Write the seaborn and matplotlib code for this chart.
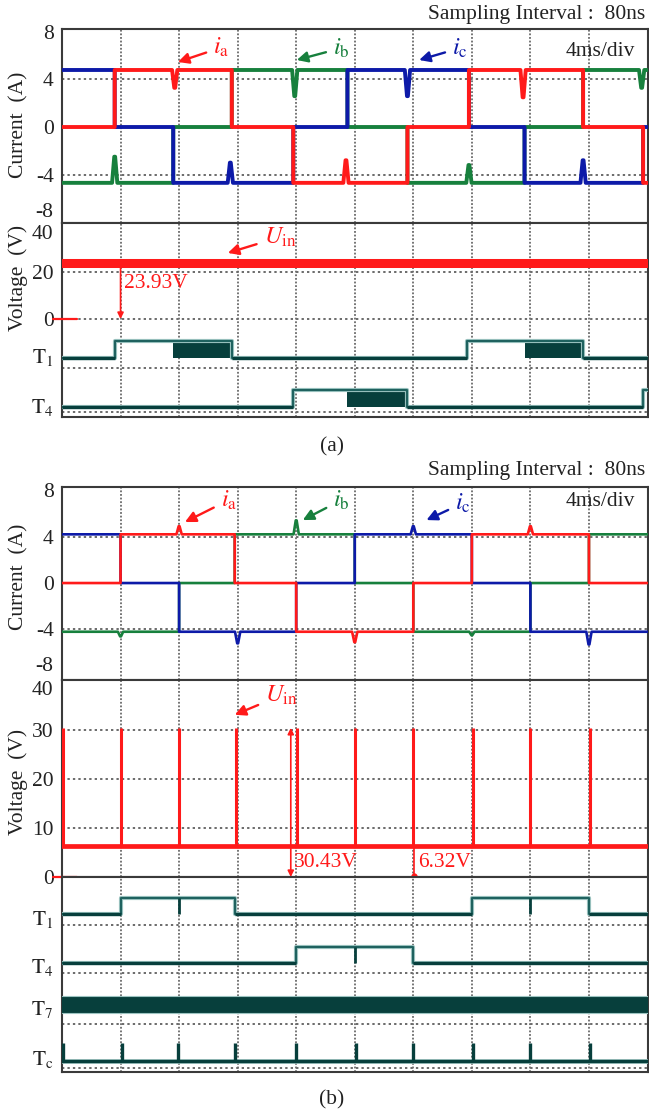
import matplotlib
matplotlib.use("Agg")
import matplotlib.pyplot as plt
import matplotlib.patheffects as pe
import seaborn as sns

sns.set_theme(style="white")
plt.rcParams["font.family"] = ["Liberation Serif", "DejaVu Serif"]
plt.rcParams["mathtext.fontset"] = "stix"

W, H, DPI = 649, 1114, 100

RED = "#ff1a1a"
GREEN = "#17803d"
BLUE = "#0d1aa8"
DARK = "#073f3c"
TEAL = "#1f625f"
HALO = "#9cc4c1"
GRID = "#6a6a6a"
INK = "#222222"
FS = 15.5

# ---------------- data ----------------
grid_ms = [4, 8, 12, 16, 20, 24, 28, 32, 36]

# (a) phase currents: switching instants (ms) and level (A) held in each interval
a_ia_t = [0, 3.6, 11.6, 15.8, 23.6, 27.8, 35.6, 39.7, 40]
a_ia_lv = [0, 4.8, 0, -4.7, 0, 4.8, 0, -4.7]
a_ib_t = [0, 7.6, 11.6, 19.5, 23.6, 31.6, 35.6, 40]
a_ib_lv = [-4.7, 0, 4.8, 0, -4.7, 0, 4.8]
a_ic_t = [0, 3.6, 7.6, 15.8, 19.5, 27.8, 31.6, 39.7, 40]
a_ic_lv = [4.8, 0, -4.7, 0, 4.8, 0, -4.7, 0]
# commutation notches: (time ms, excursion A)
a_ia_notch = [(7.7, -1.5), (19.4, 1.9), (31.5, -2.3)]
a_ib_notch = [(3.6, 2.2), (15.9, -2.2), (27.8, 1.5), (39.6, -1.5)]
a_ic_notch = [(11.5, 1.7), (23.6, -2.2), (35.6, 1.9)]

a_uin = 23.93          # V
a_cursor_t = 4.0       # ms

# (a) gate signals: 0 = off, 1 = on, 2 = PWM chopping
a_t1_t = [0, 3.6, 7.6, 11.6, 27.7, 31.6, 35.6, 40]
a_t1_s = [0, 1, 2, 0, 1, 2, 0]
a_t4_t = [0, 15.8, 19.5, 23.6, 39.7, 40]
a_t4_s = [0, 1, 2, 0, 1]

# (b) phase currents
b_ia_t = [0, 4, 11.8, 16, 24, 28, 36, 40]
b_ia_lv = [0, 4.2, 0, -4.2, 0, 4.2, 0]
b_ib_t = [0, 8, 11.8, 20, 24, 32, 36, 40]
b_ib_lv = [-4.2, 0, 4.2, 0, -4.2, 0, 4.2]
b_ic_t = [0, 4, 8, 16, 20, 28, 32, 40]
b_ic_lv = [4.2, 0, -4.2, 0, 4.2, 0, -4.2]
b_ia_notch = [(8.0, 0.7), (20.0, -0.9), (32.0, 0.7)]
b_ib_notch = [(4.0, -0.4), (16.0, 1.2), (28.0, -0.3)]
b_ic_notch = [(12.0, -1.0), (24.0, 0.7), (36.0, -1.1)]

# (b) input voltage: base level and spike instants
b_uin_base = 6.32      # V
b_uin_peak = 30.43     # V
b_spike_t = [0.08, 4.0, 8.0, 11.9, 16.05, 20.05, 24.0, 28.05, 31.95, 36.05]
b_peak_cursor_t = 15.63
b_base_cursor_t = 24.03

# (b) gate signals
b_t1_t = [0, 4, 11.8, 28, 36, 40]
b_t1_s = [0, 1, 0, 1, 0]
b_t1_glitch = [8.0, 32.0]
b_t4_t = [0, 16, 24, 40]
b_t4_s = [0, 1, 0]
b_t4_glitch = [20.0]
b_tc_t = [0.05, 4.07, 7.9, 11.8, 16.0, 20.07, 24.0, 28.05, 32.0, 36.05]


# ---------------- helpers ----------------
def px_axes(fig, left, top, right, bottom):
    return fig.add_axes([left / W, 1 - bottom / H, (right - left) / W, (bottom - top) / H])


def step_trace(times, levels, notches=(), w=0.18):
    xs, ys = [], []
    for i, lv in enumerate(levels):
        t0, t1 = times[i], times[i + 1]
        xs.append(t0); ys.append(lv)
        for tn, dv in sorted(notches):
            if t0 < tn < t1:
                xs += [tn - w, tn - 0.03, tn + 0.03, tn + w]
                ys += [lv, lv + dv, lv + dv, lv]
        xs.append(t1); ys.append(lv)
    return xs, ys


def style_axis(ax):
    ax.set_xlim(0, 40)
    ax.set_xticks([])
    ax.tick_params(axis="y", length=0, pad=6, labelsize=FS, labelcolor=INK)
    for sp in ax.spines.values():
        sp.set_color("#3a3a3a")
        sp.set_linewidth(1.5)
        sp.set_visible(True)
    ax.set_facecolor("white")
    for t in grid_ms:
        ax.axvline(t, color=GRID, lw=1.3, ls=(0, (1, 1)), zorder=1)


def hgrid(ax, levels):
    for y in levels:
        ax.axhline(y, color=GRID, lw=1.4, ls=(0, (1.2, 1.6)), zorder=1)


def draw_currents(ax, series, lw):
    for (t, lv, notch), col in series:
        xs, ys = step_trace(t, lv, notch)
        sns.lineplot(x=xs, y=ys, ax=ax, color=col, lw=lw, sort=False,
                     estimator=None, zorder=3, legend=False)


def logic_trace(ax, times, states, low, high, glitches=()):
    xs, ys = [], []
    for i, s in enumerate(states):
        t0, t1 = times[i], times[i + 1]
        y = low if s == 0 else high
        if s == 2:
            ax.fill_between([t0, t1], low, high, color=DARK, lw=0, zorder=3)
        xs += [t0, t1]
        ys += [y, y]
    sns.lineplot(x=xs, y=ys, ax=ax, color=TEAL, lw=1.5, sort=False, estimator=None,
                 zorder=4, legend=False,
                 path_effects=[pe.Stroke(linewidth=3.0, foreground=HALO), pe.Normal()])
    for i, s in enumerate(states):
        if s == 0:
            ax.plot([times[i], times[i + 1]], [low, low], color=DARK, lw=2.4,
                    solid_capstyle="butt", zorder=5)
    for g in glitches:
        ax.vlines(g, low, high, color=DARK, lw=2.0, zorder=5)


def set_ticks(ax, ticks, labels, top_label=None, bottom_label=None):
    ax.set_yticks(ticks)
    texts = ax.set_yticklabels(labels)
    for tx in texts:
        if tx.get_text() == top_label:
            tx.set_va("top")
        if tx.get_text() == bottom_label:
            tx.set_va("bottom")


def arrow_label(ax, text, tip, at, color, size=17.5):
    ax.annotate(text, xy=tip, xytext=at, color=color, fontsize=size,
                ha="center", va="center", zorder=6,
                arrowprops=dict(arrowstyle="-|>", color=color, lw=1.7,
                                mutation_scale=16, shrinkA=3, shrinkB=0))


def zero_marker(ax):
    ax.plot([-0.61, 1.02], [0, 0], color=RED, lw=1.6, clip_on=False, zorder=6)


fig = plt.figure(figsize=(W / DPI, H / DPI), dpi=DPI)
fig.patch.set_facecolor("white")
R = 647.5

# ================= (a) =================
ax = px_axes(fig, 62, 29, R, 223)
style_axis(ax)
ax.set_ylim(-8.08, 8.25)
hgrid(ax, [4, 0, -4])
draw_currents(ax, [((a_ib_t, a_ib_lv, a_ib_notch), GREEN),
                   ((a_ic_t, a_ic_lv, a_ic_notch), BLUE),
                   ((a_ia_t, a_ia_lv, a_ia_notch), RED)], lw=2.8)
set_ticks(ax, [8, 4, 0, -4, -8], ["8", "4", "0", "-4", "-8"], bottom_label="-8")
ax.set_ylabel("Current  (A)", fontsize=FS, color=INK)
ax.yaxis.set_label_coords(-0.058, 0.505)
arrow_label(ax, r"$i_{\rm a}$", (7.92, 5.47), (10.9, 6.7), RED)
arrow_label(ax, r"$i_{\rm b}$", (16.04, 5.64), (19.1, 6.65), GREEN)
arrow_label(ax, r"$i_{\rm c}$", (24.4, 5.64), (27.2, 6.65), BLUE)

ax = px_axes(fig, 62, 223, R, 417)
style_axis(ax)
ax.set_ylim(-41.7, 40.85)
hgrid(ax, [20, 0, -20.85, -39.6])
sns.lineplot(x=[0, 40], y=[a_uin, a_uin], ax=ax, color=RED, lw=6.5, zorder=3, legend=False)
logic_trace(ax, a_t1_t, a_t1_s, -16.6, -9.4)
logic_trace(ax, a_t4_t, a_t4_s, -37.4, -30.2)
set_ticks(ax, [40, 20, 0, -15.3, -36.6],
          ["40", "20", "0", r"$\mathrm{T}_1$", r"$\mathrm{T}_4$"], top_label="40")
ax.set_ylabel("Voltage  (V)", fontsize=FS, color=INK)
ax.yaxis.set_label_coords(-0.058, 0.716)
zero_marker(ax)
arrow_label(ax, r"$U_{\rm in}$", (11.33, 28.1), (14.9, 34.9), RED)
ax.annotate("", xy=(a_cursor_t, 0), xytext=(a_cursor_t, a_uin), zorder=6,
            arrowprops=dict(arrowstyle="-|>", color=RED, lw=1.2, mutation_scale=9,
                            shrinkA=0, shrinkB=0))
ax.text(a_cursor_t + 0.25, 15.3, f"{a_uin:.2f}V", color=RED, fontsize=FS,
        ha="left", va="center", zorder=6)

# ================= (b) =================
ax = px_axes(fig, 62, 487, R, 680)
style_axis(ax)
ax.set_ylim(-8.36, 8.28)
hgrid(ax, [4, 0, -4])
draw_currents(ax, [((b_ib_t, b_ib_lv, b_ib_notch), GREEN),
                   ((b_ic_t, b_ic_lv, b_ic_notch), BLUE),
                   ((b_ia_t, b_ia_lv, b_ia_notch), RED)], lw=1.9)
set_ticks(ax, [8, 4, 0, -4, -8], ["8", "4", "0", "-4", "-8"], bottom_label="-8")
ax.set_ylabel("Current  (A)", fontsize=FS, color=INK)
ax.yaxis.set_label_coords(-0.058, 0.534)
arrow_label(ax, r"$i_{\rm a}$", (8.4, 5.26), (11.4, 7.16), RED)
arrow_label(ax, r"$i_{\rm b}$", (16.45, 5.43), (19.1, 7.16), GREEN)
arrow_label(ax, r"$i_{\rm c}$", (24.9, 5.43), (27.4, 6.9), BLUE)

ax = px_axes(fig, 62, 680, R, 877)
style_axis(ax)
ax.set_ylim(0, 40.2)
hgrid(ax, [10, 20, 30])
sns.lineplot(x=[0, 40], y=[b_uin_base, b_uin_base], ax=ax, color=RED, lw=3.4,
             zorder=3, legend=False)
ax.vlines(b_spike_t, b_uin_base, b_uin_peak, color=RED, lw=2.2, zorder=3)
set_ticks(ax, [40, 30, 20, 10, 0], ["40", "30", "20", "10", "0"], top_label="40")
ax.set_ylabel("Voltage  (V)", fontsize=FS, color=INK)
ax.yaxis.set_label_coords(-0.058, 0.482)
zero_marker(ax)
arrow_label(ax, r"$U_{\rm in}$", (11.8, 33.1), (15.0, 37.1), RED)
ax.annotate("", xy=(b_peak_cursor_t, b_uin_peak), xytext=(b_peak_cursor_t, 0), zorder=6,
            arrowprops=dict(arrowstyle="<|-|>", color=RED, lw=1.2, mutation_scale=9,
                            shrinkA=0, shrinkB=0))
ax.text(b_peak_cursor_t + 0.22, 2.9, f"{b_uin_peak:.2f}V", color=RED, fontsize=FS,
        ha="left", va="center", zorder=6)
ax.plot([b_base_cursor_t, b_base_cursor_t], [0, b_uin_base], color=RED, lw=1.2, zorder=6)
ax.plot([b_base_cursor_t], [0.3], "o", color=RED, ms=3.5, zorder=6, clip_on=False)
ax.text(b_base_cursor_t + 0.3, 2.9, f"{b_uin_base:.2f}V", color=RED, fontsize=FS,
        ha="left", va="center", zorder=6)

ax = px_axes(fig, 62, 877, R, 1072)
style_axis(ax)
ax.set_ylim(-4.0, 0.0)
hgrid(ax, [-0.98, -1.97, -3.02, -3.92])
logic_trace(ax, b_t1_t, b_t1_s, -0.76, -0.43, b_t1_glitch)
logic_trace(ax, b_t4_t, b_t4_s, -1.76, -1.44, b_t4_glitch)
ax.fill_between([0, 40], -2.79, -2.44, color=DARK, lw=0, zorder=3)
ax.plot([0, 40], [-2.79, -2.79], color=HALO, lw=0.8, zorder=4)
ax.plot([0, 40], [-2.44, -2.44], color=HALO, lw=0.8, zorder=4)
ax.plot([0, 40], [-3.77, -3.77], color=DARK, lw=2.4, zorder=4,
        path_effects=[pe.Stroke(linewidth=3.4, foreground=HALO), pe.Normal()])
ax.vlines(b_tc_t, -3.77, -3.41, color=DARK, lw=2.4, zorder=5)
set_ticks(ax, [-0.82, -1.8, -2.67, -3.69],
          [r"$\mathrm{T}_1$", r"$\mathrm{T}_4$", r"$\mathrm{T}_7$", r"$\mathrm{T}_\mathrm{c}$"])

# ---------------- captions ----------------
for y_si, y_div in [(15, 52), (470, 502)]:
    fig.text(645 / W, 1 - y_si / H, "Sampling Interval :  80ns", ha="right", va="center",
             fontsize=FS, color=INK)
    fig.text(600 / W, 1 - y_div / H, "4ms/div", ha="center", va="center",
             fontsize=FS, color=INK)
fig.text(332 / W, 1 - 447 / H, "(a)", ha="center", va="center", fontsize=FS, color=INK)
fig.text(332 / W, 1 - 1100 / H, "(b)", ha="center", va="center", fontsize=FS, color=INK)

fig.savefig("out.png", dpi=DPI, facecolor="white")
